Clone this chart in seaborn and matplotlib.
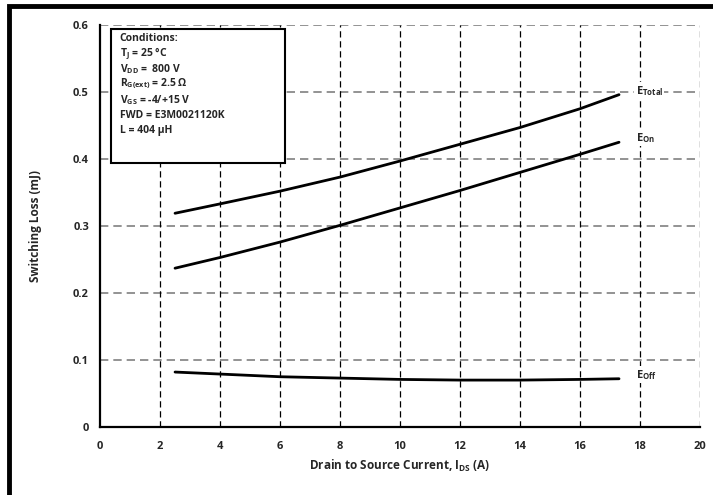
import numpy as np
import pandas as pd
import seaborn as sns
import matplotlib.pyplot as plt
from matplotlib.patches import Rectangle

sns.set_theme(style='white')
plt.rcParams['font.family'] = ['Open Sans', 'DejaVu Sans']
plt.rcParams['font.weight'] = 'bold'
plt.rcParams['mathtext.fontset'] = 'custom'
plt.rcParams['mathtext.bf'] = 'Open Sans:bold'
plt.rcParams['mathtext.rm'] = 'Open Sans:bold'
plt.rcParams['mathtext.default'] = 'bf'

# Values
ids = [2.5, 4, 6, 8, 10, 12, 14, 16, 17.3]
e_total = [0.319, 0.333, 0.352, 0.373, 0.397, 0.422, 0.447, 0.475, 0.496]
e_on = [0.237, 0.253, 0.276, 0.301, 0.327, 0.353, 0.380, 0.407, 0.425]
e_off = [0.082, 0.079, 0.075, 0.073, 0.071, 0.070, 0.070, 0.071, 0.072]
series_names = ['Total', 'On', 'Off']
x_ticks = list(range(0, 21, 2))
y_ticks = [0, 0.1, 0.2, 0.3, 0.4, 0.5, 0.6]
conditions = ['Conditions:', '$T_J$ = 25 °C', '$V_{DD}$ =  800 V',
              '$R_{G(ext)}$ = 2.5 Ω', '$V_{GS}$ = -4/+15 V',
              'FWD = E3M0021120K', 'L = 404 µH']

df = pd.DataFrame({'I': ids * 3,
                   'E': e_total + e_on + e_off,
                   'curve': [n for n in series_names for _ in ids]})

fig = plt.figure(figsize=(7.13, 4.95), dpi=100)
ax = fig.add_axes([0.1403, 0.1374, 0.8415, 0.8121])

sns.lineplot(data=df, x='I', y='E', units='curve', estimator=None,
             color='black', lw=2, ax=ax)

ax.set_xlim(0, 20)
ax.set_ylim(0, 0.6)
ax.set_xticks(x_ticks)
ax.set_yticks(y_ticks)
ax.set_yticklabels(['0', '0.1', '0.2', '0.3', '0.4', '0.5', '0.6'])

# grid: grey dashed horizontals, black dashed verticals
for y in y_ticks[1:]:
    ax.axhline(y, color='#808080', lw=1.2, ls=(0, (5, 3)), zorder=0)
for x in x_ticks[1:]:
    ax.axvline(x, color='black', lw=0.9, ls=(0, (5, 3)), zorder=0)

for s in ['top', 'right']:
    ax.spines[s].set_visible(False)
for s in ['left', 'bottom']:
    ax.spines[s].set_color('black')
    ax.spines[s].set_linewidth(1.6)
ax.tick_params(direction='inout', length=8, width=1.2, color='black',
               labelsize=8, pad=4)
ax.tick_params(axis='x', pad=6)

ax.set_xlabel('Drain to Source Current, $I_{DS}$ (A)', fontsize=8.5,
              fontweight='bold', labelpad=4)
ax.set_ylabel('Switching Loss (mJ)', fontsize=8.5, fontweight='bold',
              labelpad=22)

# curve labels
for name, vals in zip(series_names, [e_total, e_on, e_off]):
    ax.text(17.85, vals[-1] + 0.006, '$E_{%s}$' % name, fontsize=8,
            va='center', ha='left', zorder=4,
            bbox=dict(facecolor='white', edgecolor='none', pad=1))

# conditions box
ax.add_patch(Rectangle((0.37, 0.394), 5.8, 0.2, facecolor='white',
                       edgecolor='black', lw=1.5, zorder=5))
for i, line in enumerate(conditions):
    ax.text(0.65, 0.58 - i * 0.0229, line, fontsize=7.5,
            va='center', ha='left', zorder=6)

# outer frame (only top and left visible in the crop)
fig.add_artist(Rectangle((0.0133, -0.1), 1.1, 1.087, transform=fig.transFigure,
                         facecolor='none', edgecolor='black', lw=3.5))

fig.savefig('out.png', dpi=100)
